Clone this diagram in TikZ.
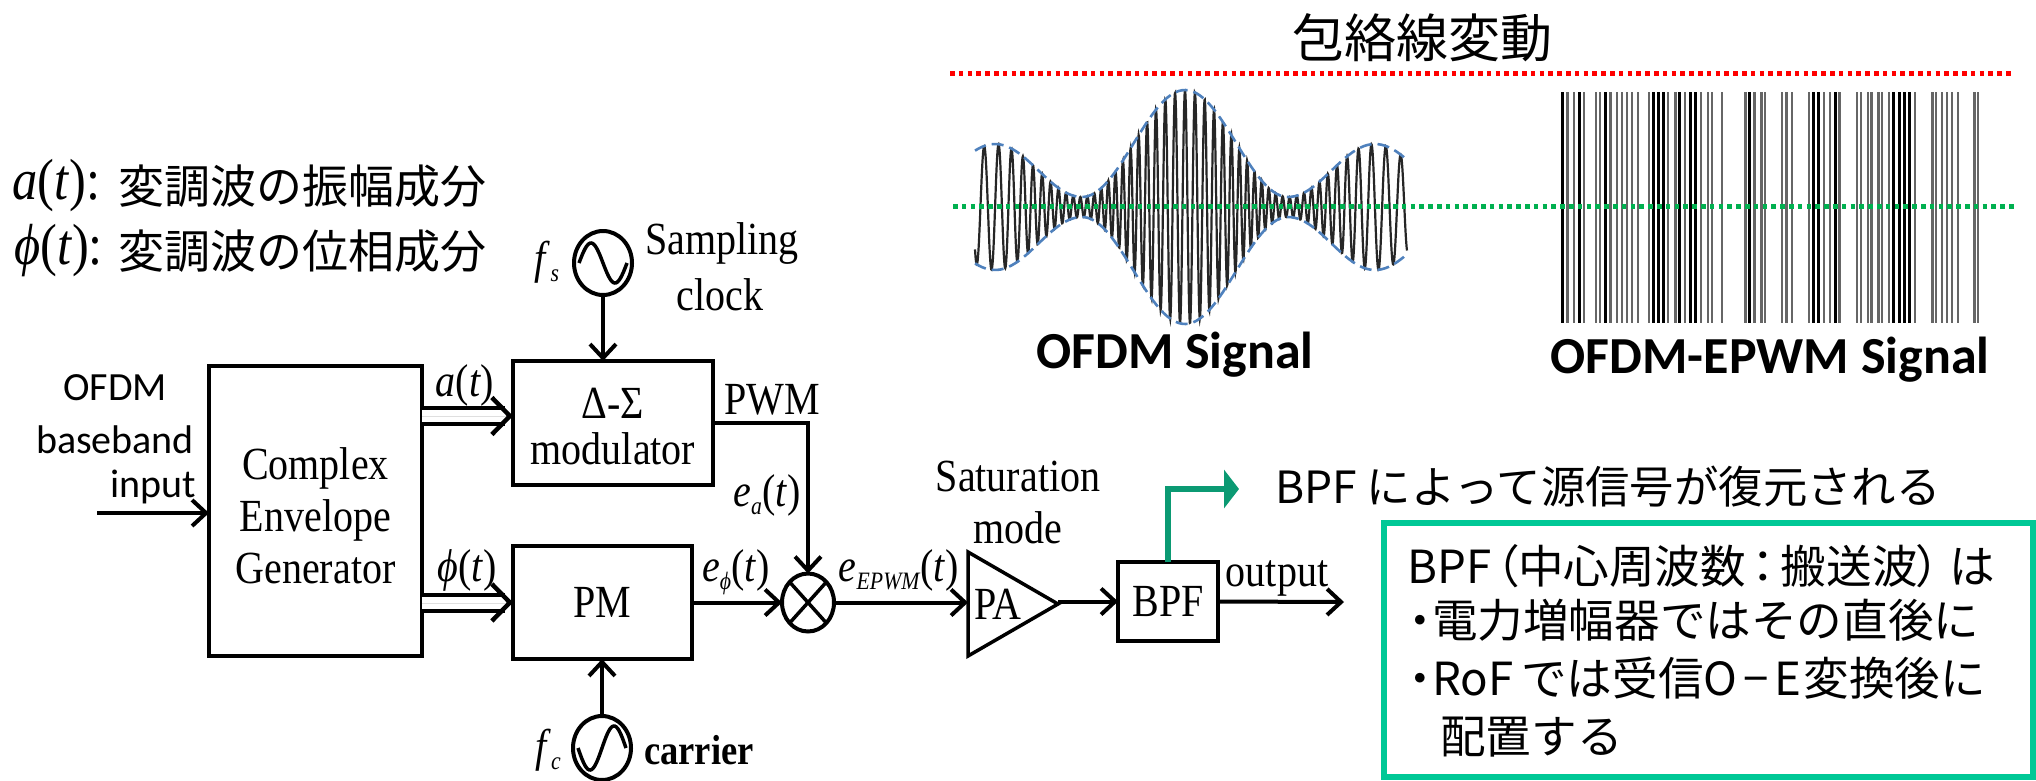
\documentclass[tikz,border=0pt]{standalone}
\usepackage{fontspec}
\setmainfont[FakeStretch=0.87]{Liberation Serif}
\newfontfamily\jp{Noto Sans CJK JP}
\newfontfamily\jpp[RawFeature={+palt}]{Noto Sans CJK JP}
\newfontfamily\calib{Carlito}
\usetikzlibrary{arrows.meta, positioning, shapes.geometric, calc}
\definecolor{arrowgreen}{RGB}{11,154,115}
\definecolor{boxgreen}{RGB}{0,200,150}
\definecolor{dotred}{RGB}{255,0,0}
\definecolor{dotgreen}{RGB}{0,176,80}
\definecolor{envblue}{RGB}{79,129,189}
\newcommand{\fs}[1]{\fontsize{#1}{#1}\selectfont}
\newcommand{\itl}[1]{\textit{#1}}

\begin{document}
\begin{tikzpicture}[
    x=1pt, y=-1pt,
    blockbox/.style={
        rectangle, draw=black, line width=4.5pt,
        inner sep=0pt, outer sep=0pt,
        font=\fs{46}, align=center
    },
    osc/.style={
        ellipse, draw=black, line width=4pt,
        minimum width=58pt, minimum height=64pt,
        inner sep=0pt, outer sep=0pt
    },
    arr/.style={-{Straight Barb[length=14pt,width=26pt,line width=4pt]}, line width=4pt},
    dbl/.style={double, double distance=12pt, line width=4pt, shorten >=8pt},
    chev/.style={-{Straight Barb[length=18pt,width=37pt,line width=4.5pt]}, line width=0.01pt},
    labl/.style={font=\fs{46}, inner sep=0pt, align=center},
    side/.style={font=\calib\fs{40}, inner sep=0pt},
    jpl/.style={font=\jp\fs{45.6}, inner sep=0pt, anchor=west},
    sigtitle/.style={font=\calib\bfseries\fs{52}, inner sep=0pt},
    thinbar/.style={draw=black!60, line width=2.3pt},
    darkbar/.style={draw=black, line width=3pt},
    dots/.style={line width=5pt, dash pattern=on 4.6pt off 4.2pt},
    declare function={
        lobe(\t)=sin(90*(abs(\t-1185)-103)/87);
        envamp(\t)=10+(abs(\t-1185)<103?107*cos(0.8738*(\t-1185))*cos(0.8738*(\t-1185)):53*lobe(\t)*lobe(\t));
        carrier(\t)=cos(40.8*(\t-1185)+393*sin(0.8738*(\t-1185))-352*sin(1.7476*(\t-1185)));
    }
]
\useasboundingbox (0,0) rectangle (2036,780);

% blocks
\node[blockbox, minimum width=213pt, minimum height=290pt] (ceg) at (315.5,511) {};
\node[labl, yshift=-5pt] (cegtxt) at (ceg) {Complex\\[6pt]Envelope\\[6pt]Generator};
\node[blockbox, minimum width=200pt, minimum height=124pt] (dsm) at (613,423) {};
\node[labl, yshift=-4pt] (dsmtxt) at (dsm) {Δ-Σ\\modulator};
\node[blockbox, minimum width=179pt, minimum height=113pt, below right=61pt and 0pt of dsm.south west, anchor=north west] (pm) {PM};
\node[ellipse, draw=black, line width=4pt, minimum width=52pt, minimum height=58pt,
      inner sep=0pt, outer sep=0pt, right=90pt of pm] (mult) {};
\draw[line width=3.5pt] (mult.north west) -- (mult.south east) (mult.north east) -- (mult.south west);
\node[isosceles triangle, isosceles triangle stretches, shape border rotate=0, draw=black,
      line width=3.5pt, minimum width=104pt, minimum height=90pt, inner sep=0pt, outer sep=0pt,
      right=134pt of mult, yshift=-1.5pt] (pa) {};
\node[labl, right=6pt of pa.west] (palbl) {PA};
\node[blockbox, minimum width=100pt, minimum height=79pt, right=60pt of pa, yshift=2.5pt] (bpf) {BPF};

% oscillators
\node[osc] (fsosc) at (603,263) {};
\draw[line width=3.5pt, shift={(fsosc.center)}] plot[domain=-24:24, samples=40, smooth] (\x, {20*sin(7.5*\x)});
\node[osc] (fcosc) at (602,748) {};
\draw[line width=3.5pt, shift={(fcosc.center)}] plot[domain=-24:24, samples=40, smooth] (\x, {-22*sin(7.5*\x)});

% connectors
\coordinate (in) at (97,513);
\coordinate (out) at (1344,602);
\coordinate (grn) at (1239,489);
\draw[arr] (in) -- (in -| ceg.west);
\draw[dbl] ([yshift=7pt]dsm.west -| ceg.east) -- ([yshift=7pt]dsm.west);
\draw[chev] ([yshift=7pt]dsm.west -| ceg.east) -- ([yshift=7pt]dsm.west);
\draw[dbl] (pm.west -| ceg.east) -- (pm.west);
\draw[chev] (pm.west -| ceg.east) -- (pm.west);
\draw[arr] (fsosc) -- (fsosc |- dsm.north);
\draw[arr] (fcosc.north) -- (fcosc |- pm.south);
\draw[arr] (dsm.east) -| (mult.north);
\draw[arr] (pm.east) -- (mult.west);
\draw[arr] (mult.east) -- (mult.east -| pa.west);
\draw[arr] (pa.east |- bpf.west) -- (bpf.west);
\draw[arr] (bpf.east) -- (out);
\draw[-{Triangle[length=15pt,width=38pt]}, line width=6pt, color=arrowgreen] (bpf.north) |- (grn);

% diagram labels
\node[side] (lofdm) at (115,388) {OFDM};
\node[side, below=24pt of lofdm] (lbase) {baseband};
\node[side, anchor=east] (linput) at (196,487) {input};
\node[labl] (la) at (465,385) {\itl{a}(\itl{t})};
\node[labl] (lphi) at (467,570) {\itl{ϕ}(\itl{t})};
\node[labl] (lfs) at (547,262) {\itl{f}\raisebox{-8pt}{\fs{25}\itl{s}}};
\node[labl] (lsamp) at (722,243) {Sampling};
\node[labl] (lclock) at (720,295) {clock};
\node[labl] (lpwm) at (772,400) {PWM};
\node[labl] (lea) at (767,495) {\itl{e}\raisebox{-8pt}{\fs{25}\itl{a}}(\itl{t})};
\node[labl] (lephi) at (736,572) {\itl{e}\raisebox{-8pt}{\fs{25}\itl{ϕ}}(\itl{t})};
\node[labl] (leepwm) at (899,570) {\itl{e}\raisebox{-8pt}{\fs{25}\itl{EPWM}}(\itl{t})};
\node[labl] (lsat) at (1018,476) {Saturation};
\node[labl] (lmode) at (1018,528) {mode};
\node[labl] (lout) at (1277,578) {output};
\node[labl] (lfc) at (548,750) {\itl{f}\raisebox{-8pt}{\fs{25}\itl{c}}};
\node[labl, font=\bfseries\fs{42}] (lcar) at (699,750) {carrier};

% legend
\node[labl, anchor=west, font=\fs{58}] (lega) at (12,186) {\itl{a}(\itl{t}):};
\node[jpl, font=\jp\fs{46}] (legatxt) at (118,186) {変調波の振幅成分};
\node[labl, anchor=west, font=\fs{58}] (legp) at (14,251) {\itl{ϕ}(\itl{t}):};
\node[jpl, font=\jp\fs{46}] (legptxt) at (118,251) {変調波の位相成分};

% envelope panel
\node[inner sep=0pt, font=\jp\fs{52}] (ttl) at (1422,38) {包絡線変動};
\draw[color=black!85, line width=2.2pt] plot[domain=975:1407, samples=1300] (\x, {207-envamp(\x)*carrier(\x)});
\draw[color=envblue, line width=2.6pt, dash pattern=on 12pt off 6pt] plot[domain=975:1407, samples=120] (\x, {207-envamp(\x)});
\draw[color=envblue, line width=2.6pt, dash pattern=on 12pt off 6pt] plot[domain=975:1407, samples=120] (\x, {207+envamp(\x)});
\foreach \bx in {1567.4,1574.2,1583.8,1596,1600.2,1610.4,1617.3,1622,1626.8,1632.3,1637.8,1648.7,1668.2,1675.4,1685,1700.7,1708.2,1712.3,1722.2,1745.5,1754.4,1761.5,1765.3,1781.7,1786.5,1792,1808.7,1824.1,1830.3,1839.5,1856.9,1860.7,1868.2,1871.6,1878.5,1882.2,1889.1,1914.7,1932.5,1935.9,1941.7,1947.2,1952.3,1957.8,1974.5,1978}
    \draw[thinbar] (\bx,92) -- (\bx,323);
\foreach \bx in {1562.6,1579,1605.6,1653.2,1658.3,1663.4,1679.5,1690.8,1695.9,1749.9,1813.5,1818.3,1835,1893.8,1899,1904.8,1909.6}
    \draw[darkbar] (\bx,92) -- (\bx,323);
\coordinate (reda) at (950,73);
\coordinate (redb) at (2011,73);
\coordinate (grna) at (953,206);
\coordinate (grnb) at (2014,206);
\draw[dots, color=dotred] (reda) -- (redb);
\draw[dots, color=dotgreen] (grna) -- (grnb);
\node[sigtitle] (lofdmsig) at (1175,355) {OFDM Signal};
\node[sigtitle] (lepwmsig) at (1770,360) {OFDM-EPWM Signal};

% notes
\node[jpl, font=\jp\fs{44.4}] (note) at (1275,487) {BPF によって源信号が復元される};
\node[rectangle, draw=boxgreen, line width=6pt, inner sep=0pt, outer sep=0pt,
      minimum width=649pt, minimum height=254pt] (nbox) at (1708.5,650) {};
\node[jpl] (nl) at (1407,566) {BPF\hspace{4pt}{\jpp（}中心周波数\hspace{6pt}{\jpp：}\hspace{6pt}搬送波{\jpp）}\hspace{9pt}は};
\node[jpl] (nm) at (1409,620) {{\jpp ・}電力増幅器ではその直後に};
\node[jpl] (nr) at (1409,678) {{\jpp ・}RoF\hspace{8pt}では受信O\hspace{6pt}−\hspace{6pt}E\hspace{2pt}変換後に};
\node[jpl] (nt) at (1440,737) {配置する};

\end{tikzpicture}
\end{document}
